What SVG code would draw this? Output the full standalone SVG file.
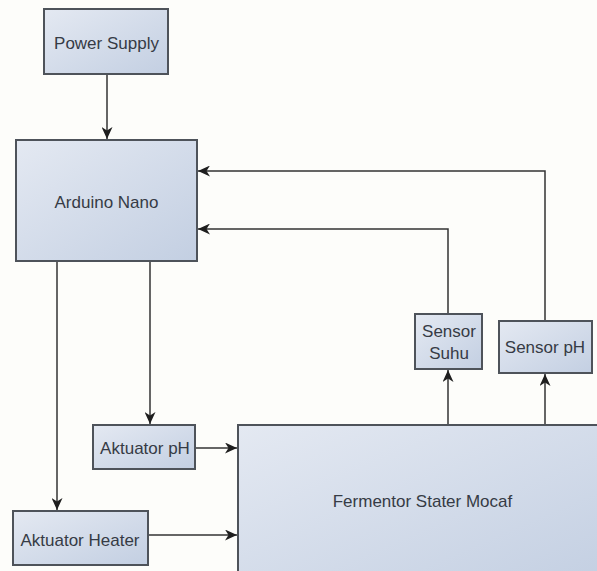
<svg xmlns="http://www.w3.org/2000/svg" width="597" height="571" viewBox="0 0 597 571">
<style>
.box{fill:url(#g);stroke:#4e535a;stroke-width:2}
.t{font-family:"Liberation Sans",Arial,sans-serif;font-size:17px;fill:#363b45;text-anchor:middle}
.c{fill:none;stroke:#333;stroke-width:1.5;marker-end:url(#a)}
</style>
<defs>
<linearGradient id="g" x1="0" y1="0" x2="1" y2="1">
<stop offset="0" stop-color="#e4e9f2"/>
<stop offset="1" stop-color="#c3cfe2"/>
</linearGradient>
<marker id="a" markerUnits="userSpaceOnUse" markerWidth="13" markerHeight="11" refX="12" refY="5.5" orient="auto">
<path d="M0,0 L12,5.5 L0,11 L3.5,5.5 Z" fill="#1e1e1e"/>
</marker>
</defs>
<rect width="597" height="571" fill="#fdfdfa"/>
<g id="connectors">
<path class="c" d="M107,74 V139"/>
<path class="c" d="M545,321 V171 H198"/>
<path class="c" d="M448,314 V229 H198"/>
<path class="c" d="M150,261 V424"/>
<path class="c" d="M57,261 V510"/>
<path class="c" d="M195,448 H237"/>
<path class="c" d="M148,535 H237"/>
<path class="c" d="M448,425 V370"/>
<path class="c" d="M545,425 V374"/>
</g>
<g id="power-supply">
<rect class="box" x="44" y="9" width="124" height="65"/>
<text class="t" x="106.5" y="49">Power Supply</text>
</g>
<g id="arduino-nano">
<rect class="box" x="16" y="140" width="181" height="121"/>
<text class="t" x="106.5" y="208">Arduino Nano</text>
</g>
<g id="sensor-suhu">
<rect class="box" x="415" y="314" width="67" height="55"/>
<text class="t" x="449" y="337">Sensor</text>
<text class="t" x="449" y="359">Suhu</text>
</g>
<g id="sensor-ph">
<rect class="box" x="499" y="321" width="93" height="52"/>
<text class="t" x="545" y="353">Sensor pH</text>
</g>
<g id="aktuator-ph">
<rect class="box" x="93" y="425" width="102" height="44"/>
<text class="t" x="145" y="454">Aktuator pH</text>
</g>
<g id="aktuator-heater">
<rect class="box" x="13" y="511" width="135" height="54"/>
<text class="t" x="80" y="546">Aktuator Heater</text>
</g>
<g id="fermentor">
<rect class="box" x="238" y="425" width="370" height="160"/>
<text class="t" x="422.5" y="507">Fermentor Stater Mocaf</text>
</g>
</svg>
